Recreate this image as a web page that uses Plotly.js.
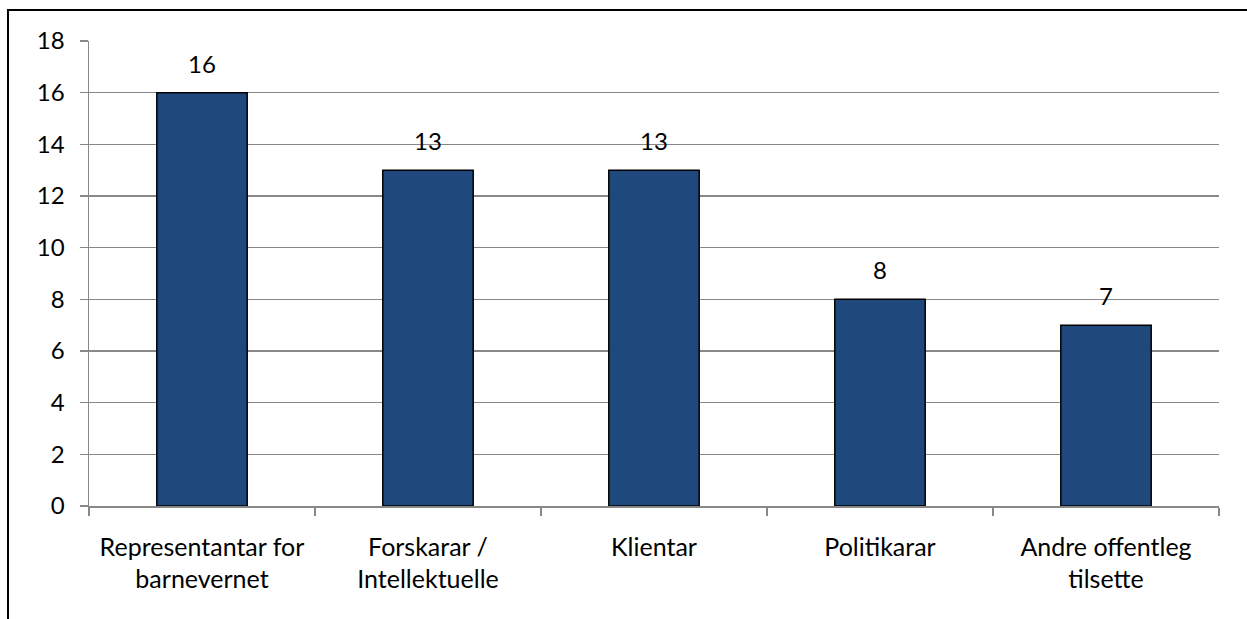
<!DOCTYPE html>
<html>
<head>
<meta charset="utf-8">
<script src="https://cdn.plot.ly/plotly-3.0.1.min.js"></script>
<style>
  html, body { margin: 0; padding: 0; background: #fff; overflow: hidden; }
  #wrap { position: relative; width: 1247px; height: 619px; }
  #chart { position: absolute; left: 0; top: 0; width: 1247px; height: 619px; }
  #frame { position: absolute; left: 7px; top: 9px; width: 1300px; height: 700px;
           border-left: 2px solid #000; border-top: 2px solid #000; pointer-events: none; }
</style>
</head>
<body>
<div id="wrap">
  <div id="chart"></div>
  <div id="frame"></div>
</div>
<script>
const categories = ["Representantar for<br>barnevernet", "Forskarar /<br>Intellektuelle", "Klientar", "Politikarar", "Andre offentleg<br>tilsette"];
const values = [16, 13, 13, 8, 7];
const yTicks = [0, 2, 4, 6, 8, 10, 12, 14, 16, 18];

const font = "Lato, sans-serif";

const trace = {
  type: "bar",
  x: categories,
  y: values,
  width: 0.4,
  marker: { color: "#1F497D", line: { color: "#000000", width: 1.5 } },
  hoverinfo: "none"
};

const annotations = categories.map((c, i) => ({
  x: c, y: values[i], xref: "x", yref: "y",
  text: String(values[i]), showarrow: false,
  yanchor: "bottom", yshift: 13,
  font: { family: font, size: 24, color: "#000" }
}));

const layout = {
  width: 1247, height: 619,
  margin: { l: 89, r: 28, t: 41, b: 113 },
  paper_bgcolor: "#fff", plot_bgcolor: "#fff",
  showlegend: false,
  font: { family: font, size: 24, color: "#000" },
  xaxis: {
    type: "category",
    showline: true, linecolor: "#888888", linewidth: 1.5,
    ticks: "outside", tickson: "boundaries", ticklen: 8, tickcolor: "#888888", tickwidth: 1.5,
    showgrid: false, zeroline: false,
    tickfont: { family: font, size: 25, color: "#000" },
    ticklabelstandoff: 18
  },
  yaxis: {
    range: [0, 18],
    tickvals: yTicks, ticktext: yTicks.map(String),
    showline: true, linecolor: "#888888", linewidth: 1.5,
    ticks: "outside", ticklen: 8, tickcolor: "#888888", tickwidth: 1.5,
    showgrid: true, gridcolor: "#888888", gridwidth: 1.5,
    zeroline: false,
    tickfont: { family: font, size: 24, color: "#000" },
    ticklabelstandoff: 10
  },
  annotations: annotations
};

Plotly.newPlot("chart", [trace], layout, { displayModeBar: false, staticPlot: true });
</script>
</body>
</html>
